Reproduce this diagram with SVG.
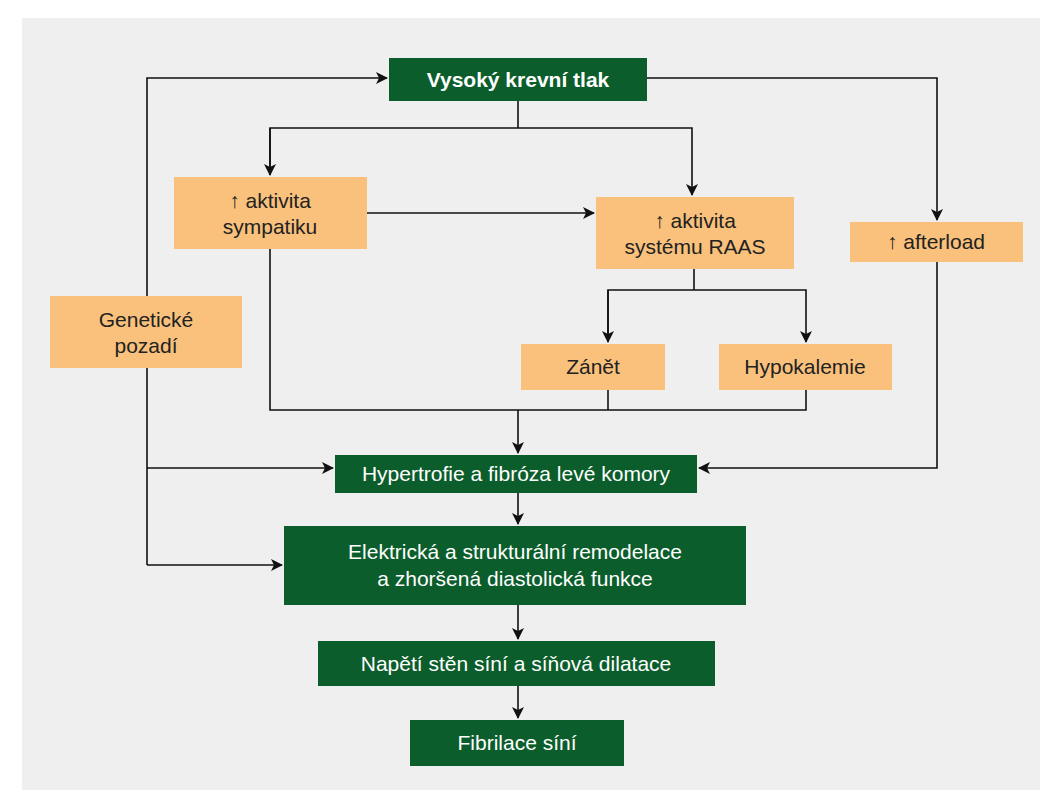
<svg xmlns="http://www.w3.org/2000/svg" width="1063" height="800" viewBox="0 0 1063 800">
<style>
.g{fill:#0b5e2b}.o{fill:#f9c17b}
text{font-family:"Liberation Sans",Arial,sans-serif;font-size:21px;text-anchor:middle}
.w{fill:#fff}.k{fill:#222}
.c line,.c polyline{stroke:#111;stroke-width:1.6;fill:none}
</style>
<defs><marker id="a" markerWidth="12" markerHeight="12" refX="11" refY="6" orient="auto" markerUnits="userSpaceOnUse"><path d="M0,0 L12,6 L0,12 L3,6 Z" fill="#111"/></marker></defs>
<rect width="1063" height="800" fill="#fff"/>
<rect x="22" y="18" width="1018" height="772" fill="#efefef"/>
<g class="c">
<polyline points="147,565 147,78 387,78" marker-end="url(#a)"/>
<line x1="147" y1="468" x2="333" y2="468" marker-end="url(#a)"/>
<line x1="147" y1="565" x2="282" y2="565" marker-end="url(#a)"/>
<polyline points="647,78 937,78 937,220" marker-end="url(#a)"/>
<polyline points="937,262 937,468 699,468" marker-end="url(#a)"/>
<line x1="518" y1="101" x2="518" y2="128"/>
<polyline points="270,175 270,128 692,128 692,195" marker-end="url(#a)"/>
<line x1="270" y1="128" x2="270" y2="175" marker-end="url(#a)"/>
<line x1="367" y1="213" x2="594" y2="213" marker-end="url(#a)"/>
<line x1="694" y1="269" x2="694" y2="290"/>
<polyline points="608,342 608,290 806,290 806,342" marker-end="url(#a)"/>
<line x1="608" y1="290" x2="608" y2="342" marker-end="url(#a)"/>
<polyline points="270,249 270,410 806,410 806,390"/>
<line x1="608" y1="390" x2="608" y2="410"/>
<line x1="518" y1="410" x2="518" y2="453" marker-end="url(#a)"/>
<line x1="518" y1="493" x2="518" y2="524" marker-end="url(#a)"/>
<line x1="518" y1="605" x2="518" y2="639" marker-end="url(#a)"/>
<line x1="518" y1="686" x2="518" y2="718" marker-end="url(#a)"/>
</g>
<g id="n1"><rect class="g" x="389" y="58" width="258" height="43"/><text class="w" x="518" y="87" font-weight="bold">Vysoký krevní tlak</text></g>
<g id="n2"><rect class="o" x="174" y="177" width="193" height="72"/><text class="k" x="270" y="208">↑ aktivita</text><text class="k" x="270" y="234">sympatiku</text></g>
<g id="n3"><rect class="o" x="596" y="197" width="198" height="72"/><text class="k" x="695" y="228">↑ aktivita</text><text class="k" x="695" y="254">systému RAAS</text></g>
<g id="n4"><rect class="o" x="850" y="222" width="173" height="40"/><text class="k" x="936" y="249">↑ afterload</text></g>
<g id="n5"><rect class="o" x="50" y="296" width="192" height="72"/><text class="k" x="146" y="327">Genetické</text><text class="k" x="146" y="353">pozadí</text></g>
<g id="n6"><rect class="o" x="521" y="344" width="144" height="46"/><text class="k" x="593" y="374">Zánět</text></g>
<g id="n7"><rect class="o" x="719" y="344" width="173" height="46"/><text class="k" x="805" y="374">Hypokalemie</text></g>
<g id="n8"><rect class="g" x="335" y="455" width="362" height="38"/><text class="w" x="516" y="481">Hypertrofie a fibróza levé komory</text></g>
<g id="n9"><rect class="g" x="284" y="526" width="462" height="79"/><text class="w" x="515" y="559">Elektrická a strukturální remodelace</text><text class="w" x="515" y="586">a zhoršená diastolická funkce</text></g>
<g id="n10"><rect class="g" x="318" y="641" width="397" height="45"/><text class="w" x="516" y="671">Napětí stěn síní a síňová dilatace</text></g>
<g id="n11"><rect class="g" x="410" y="720" width="214" height="46"/><text class="w" x="517" y="750">Fibrilace síní</text></g>
</svg>
